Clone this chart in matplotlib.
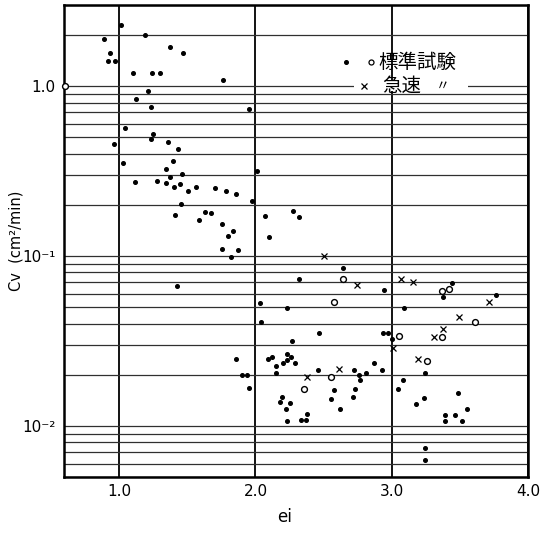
import matplotlib
matplotlib.use("Agg")
import matplotlib.pyplot as plt
from matplotlib.ticker import LogLocator, NullFormatter, FixedLocator

# ---- data ----
# standard test, filled dots
dots_x = [1.015, 1.186, 0.890, 0.929, 0.917, 0.968, 1.375, 1.468, 1.101, 1.243,
          1.299, 1.763, 1.208, 1.120, 1.233, 1.956, 1.044, 1.250, 1.233, 0.963,
          1.355, 1.432, 1.027, 1.397, 1.340, 1.463, 2.010, 1.115, 1.277, 1.346,
          1.375, 1.449, 1.404, 1.502, 1.561, 1.701, 1.785, 1.855, 1.973, 1.454,
          1.630, 1.676, 1.412, 1.583, 1.757, 1.833, 1.801, 1.752, 1.870, 1.821,
          2.277, 2.321, 2.068, 2.098, 2.640, 2.318, 2.941, 2.033, 2.235, 2.037,
          2.463, 2.938, 2.973, 3.005, 2.268, 1.860, 2.092, 2.123, 2.228, 2.260,
          2.233, 2.201, 2.292, 2.154, 2.873, 2.458, 2.929, 2.721, 2.149, 1.902,
          1.939, 2.760, 2.809, 2.765, 1.956, 2.576, 2.730, 2.196, 2.557, 2.715,
          2.179, 2.257, 2.226, 2.620, 2.380, 2.228, 2.333, 2.370, 3.090, 3.441,
          3.375, 3.768, 3.245, 3.085, 3.049, 3.239, 3.180, 3.487, 3.551, 3.390,
          3.463, 3.392, 3.513, 3.246, 3.246, 1.424]
dots_y = [2.28, 2.01, 1.89, 1.57, 1.40, 1.40, 1.70, 1.57, 1.19, 1.19,
          1.19, 1.08, 0.938, 0.842, 0.750, 0.735, 0.569, 0.525, 0.491, 0.454,
          0.469, 0.426, 0.352, 0.364, 0.326, 0.304, 0.316, 0.274, 0.277, 0.270,
          0.290, 0.265, 0.254, 0.241, 0.254, 0.252, 0.242, 0.232, 0.211, 0.202,
          0.181, 0.180, 0.174, 0.162, 0.154, 0.141, 0.131, 0.110, 0.108, 0.0986,
          0.185, 0.170, 0.172, 0.130, 0.0844, 0.0729, 0.0627, 0.0526, 0.0491, 0.0409,
          0.0350, 0.0350, 0.0350, 0.0323, 0.0316, 0.0246, 0.0248, 0.0255, 0.0266, 0.0254,
          0.0243, 0.0234, 0.0234, 0.0225, 0.0234, 0.0214, 0.0214, 0.0212, 0.0204, 0.0198,
          0.0198, 0.0198, 0.0205, 0.0185, 0.0168, 0.0163, 0.0164, 0.0147, 0.0144, 0.0147,
          0.0138, 0.0137, 0.0125, 0.0126, 0.0117, 0.0107, 0.0108, 0.0108, 0.0491, 0.0689,
          0.0576, 0.0586, 0.0205, 0.0185, 0.0164, 0.0146, 0.0135, 0.0156, 0.0125, 0.0116,
          0.0116, 0.0107, 0.0107, 0.00738, 0.00627, 0.0667]

# standard test, open circles
circ_x = [0.601, 2.640, 2.577, 2.551, 2.355, 3.369, 3.421, 3.612, 3.050, 3.371, 3.259]
circ_y = [1.00, 0.0732, 0.0534, 0.0194, 0.0165, 0.0625, 0.0638, 0.0410, 0.0338, 0.0332, 0.0240]

# rapid test, crosses
cross_x = [2.504, 2.746, 2.375, 2.615, 3.070, 3.154, 3.711, 3.493, 3.375, 3.309, 3.011, 3.193]
cross_y = [0.1004, 0.0673, 0.0195, 0.0217, 0.0734, 0.0699, 0.0534, 0.0436, 0.0372, 0.0332, 0.0286, 0.0247]

x_ticks = [1.0, 2.0, 3.0, 4.0]
x_ticklabels = ["1.0", "2.0", "3.0", "4.0"]
y_ticks = [1.0, 0.1, 0.01]
y_ticklabels = ["1.0", "10⁻¹", "10⁻²"]

JP = ["Noto Sans CJK JP", "DejaVu Sans"]

fig = plt.figure(figsize=(5.40, 5.36), dpi=100)
ax = fig.add_axes([64/540, 1-477/536, (528-64)/540, (477-5)/536])

ax.set_yscale("log")
ax.set_xlim(0.595, 4.0)
ax.set_ylim(0.005, 3.0)

# grid
ax.yaxis.set_major_locator(FixedLocator(y_ticks))
ax.yaxis.set_minor_locator(LogLocator(base=10, subs=range(2, 10), numticks=20))
ax.yaxis.set_minor_formatter(NullFormatter())
ax.set_yticks(y_ticks)
ax.set_yticklabels(y_ticklabels)
ax.set_xticks(x_ticks)
ax.set_xticklabels(x_ticklabels)
ax.grid(True, axis="y", which="both", color="#303030", lw=0.9)
ax.grid(True, axis="x", which="major", color="black", lw=1.3)
ax.set_axisbelow(True)

ax.tick_params(axis="both", which="both", length=0)
ax.tick_params(axis="x", pad=5, labelsize=11)
ax.tick_params(axis="y", pad=6, labelsize=11)
for s in ax.spines.values():
    s.set_linewidth(1.8)
    s.set_color("black")

# data
ax.plot(dots_x, dots_y, ls="none", marker="o", ms=2.6, color="black", zorder=3)
ax.plot(circ_x, circ_y, ls="none", marker="o", ms=4.2, mfc="white", mec="black",
        mew=1.0, zorder=3, clip_on=False)
ax.plot(cross_x, cross_y, ls="none", marker="x", ms=5.0, color="black",
        mew=0.9, zorder=3)

# legend written in the plot
ax.plot([2.662], [1.384], marker="o", ms=2.6, color="black", ls="none", zorder=4)
ax.plot([2.846], [1.384], marker="o", ms=3.6, mfc="white", mec="black", mew=0.9,
        ls="none", zorder=4)
ax.text(2.905, 1.384, "標準試験", family=JP, fontsize=14, va="center", ha="left",
        zorder=4)
ax.fill_between([2.72, 3.56], [0.93, 0.93], [1.08, 1.08], color="white", zorder=2.5,
                lw=0)
ax.plot([2.794], [1.0], marker="x", ms=3.8, color="black", mew=0.9, ls="none", zorder=4)
ax.text(2.93, 1.0, "急速", family=JP, fontsize=14, va="center", ha="left", zorder=4)
ax.text(3.32, 1.0, "〃", family=JP, fontsize=10, va="center", ha="left", zorder=4)

# axis labels
fig.text(16/540, 1-241/536, "Cv  (cm²/min)", rotation=90, ha="center",
         va="center", fontsize=10.5)
fig.text(285/540, 1-517/536, "ei", ha="center", va="center", fontsize=12)

fig.savefig("out.png", dpi=100)
